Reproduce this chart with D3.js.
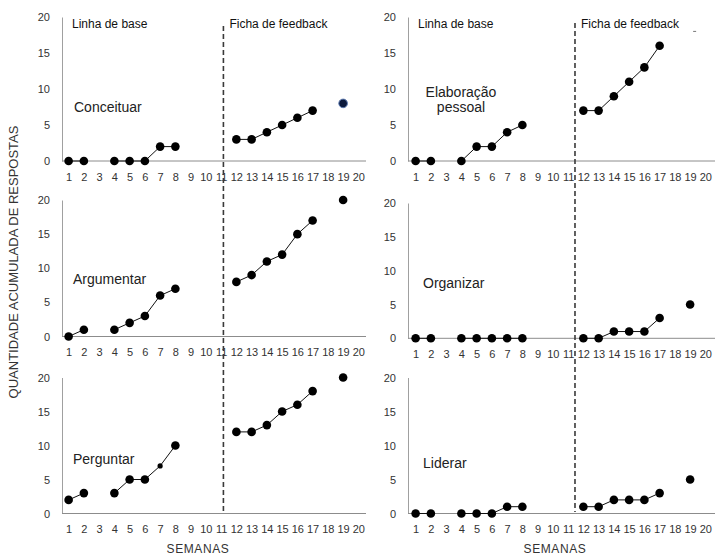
<!DOCTYPE html>
<html><head><meta charset="utf-8">
<script src="https://cdn.jsdelivr.net/npm/d3@7"></script>
<style>
body{margin:0;background:#fff}
text{font-family:"Liberation Sans",Arial,sans-serif}
</style></head>
<body><svg id="c" width="715" height="557"></svg>
<script>
// ---- data ----
const weekLabels = ["1","2","3","4","5","6","7","8","9","10","11","12","13","14","15","16","17","18","19","20"];
const yTicks = [0,5,10,15,20];
const conceituar = [0,0,null,0,0,0,2,2,null,null,null,3,3,4,5,6,7,null,8,null];
const elaboracao = [0,0,null,0,2,2,4,5,null,null,null,7,7,9,11,13,16,null,18,null];
const argumentar = [0,1,null,1,2,3,6,7,null,null,null,8,9,11,12,15,17,null,20,null];
const organizar  = [0,0,null,0,0,0,0,0,null,null,null,0,0,1,1,1,3,null,5,null];
const perguntar  = [2,3,null,3,5,5,7,10,null,null,null,12,12,13,15,16,18,null,20,null];
const liderar    = [0,0,null,0,0,0,1,1,null,null,null,1,1,2,2,2,3,null,5,null];
const phaseLabels = ["Linha de base","Ficha de feedback"];
const phaseChangeWeek = "11";

// ---- layout ----
const svg = d3.select("#c");
const cols = [
  {x0:61, x1:366, axisX:62, lineEnd:366, dashFrac:0.15},
  {x0:408, x1:713, axisX:408, lineEnd:715, dashFrac:0.45}
];
const rows = [
  [{y0:161,y1:17},{y0:161,y1:17}],
  [{y0:336.5,y1:200},{y0:338.3,y1:203}],
  [{y0:513.5,y1:377.5},{y0:513.5,y1:377.5}]
];
const panels = [
  {name:["Conceituar"], data:conceituar, r:0, c:0, tx:74, ty:112, anchor:"start"},
  {name:["Elaboração","pessoal"], data:elaboracao, r:0, c:1, tx:461, ty:97, anchor:"middle", special:{"19":"dash"}},
  {name:["Argumentar"], data:argumentar, r:1, c:0, tx:73, ty:284, anchor:"start"},
  {name:["Organizar"], data:organizar, r:1, c:1, tx:423, ty:288, anchor:"start"},
  {name:["Perguntar"], data:perguntar, r:2, c:0, tx:73, ty:464, anchor:"start", special:{"7":"small"}},
  {name:["Liderar"], data:liderar, r:2, c:1, tx:423, ty:467.5, anchor:"start"}
];

const xs = cols.map(c => d3.scalePoint().domain(weekLabels).range([c.x0,c.x1]).padding(0.5));

panels.forEach(p => {
  const col = cols[p.c], rw = rows[p.r][p.c];
  const x = xs[p.c];
  const y = d3.scaleLinear().domain([0,20]).range([rw.y0, rw.y1]);
  const g = svg.append("g");

  // y axis
  const ya = g.append("g").attr("transform",`translate(${col.axisX},0)`)
    .call(d3.axisLeft(y).tickValues(yTicks).tickSize(0).tickSizeOuter(0).tickPadding(12));
  ya.select(".domain").attr("stroke","#a0a0a0");
  ya.selectAll("text").attr("font-size",11).attr("fill","#333").attr("font-family",'"Liberation Sans",Arial,sans-serif');

  // x axis
  g.append("line").attr("x1",col.axisX).attr("x2",col.lineEnd).attr("y1",y(0)).attr("y2",y(0))
    .attr("stroke","#8c8c8c");
  const xa = g.append("g").attr("transform",`translate(0,${y(0)})`)
    .call(d3.axisBottom(x).tickSize(0).tickSizeOuter(0).tickPadding(12));
  xa.select(".domain").remove();
  xa.selectAll("text").attr("font-size",11).attr("fill","#333").attr("font-family",'"Liberation Sans",Arial,sans-serif');

  const pts = weekLabels.map((w,i)=>({w, v:p.data[i]}));
  const line = d3.line().defined(d=>d.v!==null && !(p.special && p.special[d.w]==="dash"))
    .x(d=>x(d.w)).y(d=>y(d.v));
  g.append("path").attr("d",line(pts)).attr("fill","none").attr("stroke","#111").attr("stroke-width",1);

  const valid = pts.filter(d=>d.v!==null);
  valid.forEach(d=>{
    const sp = p.special && p.special[d.w];
    if (sp==="dash") {
      g.append("line").attr("x1",x(d.w)+3).attr("x2",x(d.w)+6).attr("y1",y(d.v)).attr("y2",y(d.v))
        .attr("stroke","#777").attr("stroke-width",1);
      return;
    }
    const isLast = d.w==="19" && p.name[0]==="Conceituar";
    g.append("circle").attr("cx",x(d.w)).attr("cy",y(d.v))
      .attr("r", sp==="small"?2.6:4.3)
      .attr("fill", isLast?"#0c1a3c":"#000")
      .attr("stroke", isLast?"#5a78b0":"none").attr("stroke-width",1);
  });

  // panel title
  const t = g.append("text").attr("x",p.tx).attr("y",p.ty).attr("text-anchor",p.anchor)
    .attr("font-size",14).attr("fill","#222");
  p.name.forEach((n,i)=> t.append("tspan").attr("x",p.tx).attr("dy", i===0?0:15).text(n));
});

// phase dashed lines & labels
cols.forEach((c,ci)=>{
  const x = xs[ci];
  const dx = x(phaseChangeWeek) + x.step()*c.dashFrac;
  svg.append("line").attr("x1",dx).attr("x2",dx).attr("y1",ci===0?26:23).attr("y2",512)
    .attr("stroke","#3a3a3a").attr("stroke-width",1.6).attr("stroke-dasharray","5,3");
  svg.append("text").attr("x",c.axisX+10).attr("y",27.5).attr("font-size",12).attr("fill","#111").text(phaseLabels[0]);
  svg.append("text").attr("x",dx+6).attr("y",27.5).attr("font-size",12).attr("fill","#111").text(phaseLabels[1]);
  svg.append("text").attr("x", ci===0?198:555).attr("y",553).attr("text-anchor","middle")
    .attr("font-size",12).attr("letter-spacing",0.6).attr("fill","#333").text("SEMANAS");
});

// y title
svg.append("text").attr("transform","translate(18,262) rotate(-90)").attr("text-anchor","middle")
  .attr("font-size",13).attr("fill","#333").text("QUANTIDADE ACUMULADA DE RESPOSTAS");
</script></body></html>
